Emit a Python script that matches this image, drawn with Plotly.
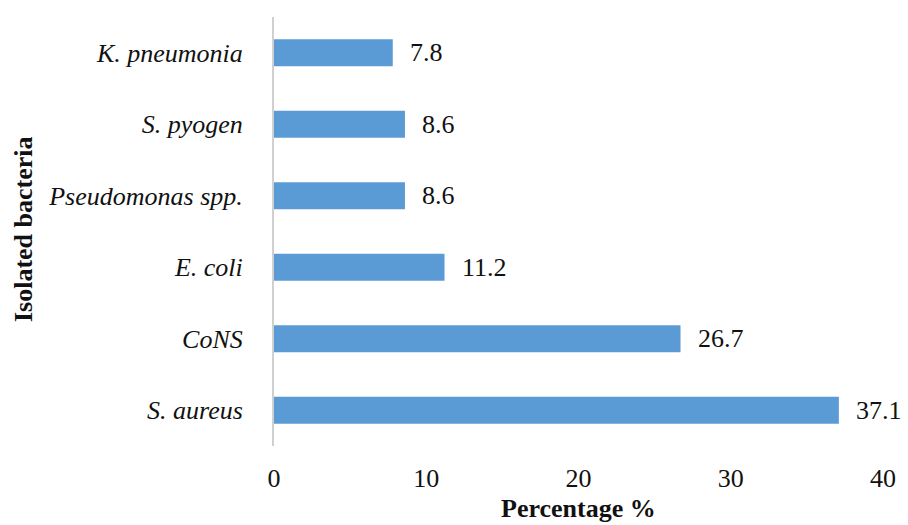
import plotly.graph_objects as go

# Isolated bacteria and their share of all isolates (%)
bacteria = ["S. aureus", "CoNS", "E. coli", "Pseudomonas spp.", "S. pyogen", "K. pneumonia"]
percentages = [37.1, 26.7, 11.2, 8.6, 8.6, 7.8]
x_ticks = [0, 10, 20, 30, 40]

serif = "Liberation Serif, Times New Roman, serif"
ink = "#111111"
size = 26

fig = go.Figure(
    go.Bar(
        y=bacteria,
        x=percentages,
        orientation="h",
        marker=dict(color="#5b9bd5", line=dict(width=0)),
        hoverinfo="x+y",
    )
)

# value labels to the right of each bar
value_labels = [
    dict(
        x=v, y=name, xref="x", yref="y",
        text=f"{v:.1f}",
        xanchor="left", yanchor="middle",
        xshift=15,
        showarrow=False,
        font=dict(family=serif, size=size, color=ink),
    )
    for name, v in zip(bacteria, percentages)
]

axis_titles = [
    dict(
        text="<b>Percentage %</b>",
        xref="paper", yref="paper",
        x=0.5, y=-0.145,
        xanchor="center", yanchor="middle",
        showarrow=False,
        font=dict(family=serif, size=size, color=ink),
    ),
    dict(
        text="<b>Isolated bacteria</b>",
        xref="paper", yref="paper",
        x=-0.411, y=0.505,
        xanchor="center", yanchor="middle",
        textangle=-90,
        showarrow=False,
        font=dict(family=serif, size=size, color=ink),
    ),
]

fig.update_layout(
    width=908,
    height=525,
    margin=dict(l=274, r=21, t=17, b=79),
    paper_bgcolor="white",
    plot_bgcolor="white",
    bargap=0.62,
    showlegend=False,
    font=dict(family=serif, color=ink),
    xaxis=dict(
        range=[0, 40],
        tickvals=x_ticks,
        showgrid=False,
        zeroline=False,
        showline=False,
        ticks="",
        ticklabelstandoff=14,
        tickfont=dict(family=serif, size=size, color=ink),
    ),
    yaxis=dict(
        categoryorder="array",
        categoryarray=bacteria,
        showgrid=False,
        zeroline=False,
        showline=True,
        linecolor="#d0d0d0",
        linewidth=2,
        ticks="",
        ticklabelstandoff=24,
        tickfont=dict(family=serif, size=size, color=ink, style="italic"),
    ),
    annotations=value_labels + axis_titles,
)

fig.write_html("out.html")
